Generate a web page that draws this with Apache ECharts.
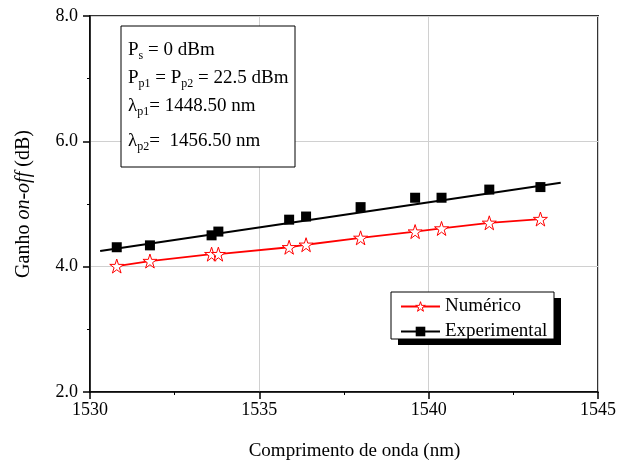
<!DOCTYPE html>
<html>
<head>
<meta charset="utf-8">
<script src="https://cdn.jsdelivr.net/npm/echarts@6/dist/echarts.min.js"></script>
<style>html,body{margin:0;padding:0;background:#fff}#c{width:632px;height:466px}</style>
</head>
<body>
<div id="c"></div>
<script>
const wavelengths = [1530.79, 1531.77, 1533.59, 1533.79, 1535.88, 1536.38, 1537.99, 1539.60, 1540.38, 1541.79, 1543.30];
const experimental = [4.31, 4.34, 4.50, 4.56, 4.75, 4.80, 4.95, 5.10, 5.10, 5.23, 5.27];
const numerico = [4.01, 4.09, 4.20, 4.20, 4.31, 4.35, 4.46, 4.56, 4.61, 4.70, 4.76];
const fitWavelengths = [1530.3, 1543.9];
const fitGain = [4.25, 5.34];
const xTicks = [1530, 1535, 1540, 1545];
const yTicks = [2.0, 4.0, 6.0, 8.0];
const seriesNames = ['Numérico', 'Experimental'];

const FONT = "'Liberation Serif', 'Times New Roman', serif";
const STAR = 'path://M50 0 L61.23 34.55 L97.55 34.55 L68.16 55.9 L79.39 90.45 L50 69.1 L20.61 90.45 L31.84 55.9 L2.45 34.55 L38.77 34.55 Z';

const chart = echarts.init(document.getElementById('c'), null, {renderer: 'canvas'});
const pairs = (xs, ys) => xs.map((x, i) => [x, ys[i]]);

const subRich = {
  n: {fontFamily: FONT, fontSize: 19, color: '#000'},
  s: {fontFamily: FONT, fontSize: 12, color: '#000', padding: [12, 0, 0, 0]}
};

chart.setOption({
  animation: false,
  backgroundColor: '#fff',
  grid: {left: 90, right: 34, top: 16, bottom: 72, show: true, borderColor: '#333', borderWidth: 2, backgroundColor: 'transparent'},
  xAxis: {
    type: 'value', min: xTicks[0], max: xTicks[xTicks.length - 1], interval: 5,
    name: 'Comprimento de onda (nm)', nameLocation: 'middle', nameGap: 50,
    nameTextStyle: {fontFamily: FONT, fontSize: 19, color: '#000', padding: [0, 0, 0, 21]},
    axisLine: {lineStyle: {color: '#000', width: 1.5}},
    axisTick: {length: 7, lineStyle: {color: '#000', width: 1.5}},
    minorTick: {show: true, splitNumber: 2, length: 3, lineStyle: {color: '#000', width: 1}},
    axisLabel: {fontFamily: FONT, fontSize: 18, color: '#000', margin: 9, formatter: v => String(v)},
    splitLine: {show: true, lineStyle: {color: '#d0d0d0', width: 1}}
  },
  yAxis: {
    type: 'value', min: yTicks[0], max: yTicks[yTicks.length - 1], interval: 2,
    name: 'Ganho {i|on-off} (dB)', nameLocation: 'middle', nameGap: 56,
    nameTextStyle: {fontFamily: FONT, fontSize: 20, color: '#000',
      rich: {i: {fontFamily: FONT, fontSize: 20, fontStyle: 'italic', color: '#000'}}},
    axisLine: {lineStyle: {color: '#000', width: 1.5}},
    axisTick: {length: 7, lineStyle: {color: '#000', width: 1.5}},
    minorTick: {show: true, splitNumber: 2, length: 3, lineStyle: {color: '#000', width: 1}},
    axisLabel: {fontFamily: FONT, fontSize: 18, color: '#000', margin: 12, formatter: v => v.toFixed(1)},
    splitLine: {show: true, lineStyle: {color: '#d0d0d0', width: 1}}
  },
  legend: {
    orient: 'vertical', left: 400, top: 297, padding: 0, itemGap: 6,
    itemWidth: 39, itemHeight: 12, z: 20,
    textStyle: {fontFamily: FONT, fontSize: 19, color: '#000'},
    data: [
      {name: seriesNames[0], itemStyle: {color: '#fff', borderColor: '#ff0000', borderWidth: 1}},
      {name: seriesNames[1], lineStyle: {opacity: 1, width: 2, color: '#000'}}
    ]
  },
  graphic: [
    {type: 'rect', z: 10, shape: {x: 398, y: 298, width: 163, height: 47}, style: {fill: '#000'}},
    {type: 'rect', z: 11, shape: {x: 391, y: 292, width: 163, height: 47}, style: {fill: '#fff', stroke: '#000', lineWidth: 1}},
    {type: 'rect', z: 10, shape: {x: 121, y: 26, width: 174, height: 141}, style: {fill: '#fff', stroke: '#000', lineWidth: 1}},
    {type: 'text', z: 11, x: 128, y: 50, style: {text: '{n|P}{s|s}{n| = 0 dBm}', rich: subRich, verticalAlign: 'middle'}},
    {type: 'text', z: 11, x: 128, y: 78, style: {text: '{n|P}{s|p1}{n| = P}{s|p2}{n| = 22.5 dBm}', rich: subRich, verticalAlign: 'middle'}},
    {type: 'text', z: 11, x: 128, y: 106, style: {text: '{n|λ}{s|p1}{n|= 1448.50 nm}', rich: subRich, verticalAlign: 'middle'}},
    {type: 'text', z: 11, x: 128, y: 141, style: {text: '{n|λ}{s|p2}{n|=  1456.50 nm}', rich: subRich, verticalAlign: 'middle'}}
  ],
  series: [
    {
      name: seriesNames[0], type: 'line', data: pairs(wavelengths, numerico),
      symbol: STAR, symbolSize: 14, showAllSymbol: true, z: 4,
      lineStyle: {color: '#ff0000', width: 1.8},
      itemStyle: {color: '#fff', borderColor: '#ff0000', borderWidth: 1}
    },
    {
      name: 'fit', type: 'line', data: pairs(fitWavelengths, fitGain),
      symbol: 'none', silent: true, z: 2,
      lineStyle: {color: '#000', width: 2}
    },
    {
      name: seriesNames[1], type: 'line', data: pairs(wavelengths, experimental),
      symbol: 'rect', symbolSize: 10, showAllSymbol: true, z: 5,
      lineStyle: {opacity: 0, color: '#000'},
      itemStyle: {color: '#000'}
    }
  ]
});
</script>
</body>
</html>
